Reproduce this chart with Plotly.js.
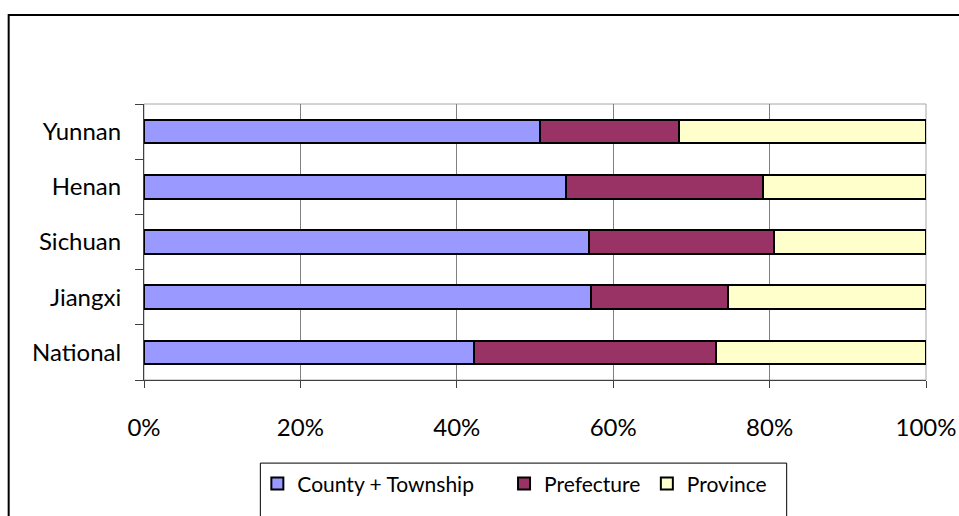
<!DOCTYPE html>
<html>
<head>
<meta charset="utf-8">
<script src="https://cdn.plot.ly/plotly-3.0.1.min.js"></script>
<style>
  html, body { margin: 0; padding: 0; background: #ffffff; overflow: hidden; }
  #chart { width: 959px; height: 516px; }
</style>
</head>
<body>
<div id="chart"></div>
<script>
// Categories (bottom to top as drawn)
const regions = ['National', 'Jiangxi', 'Sichuan', 'Henan', 'Yunnan'];
// Shares in percent
const countyTownship = [42.2, 57.1, 56.9, 54.0, 50.7];
const prefecture     = [31.0, 17.6, 23.7, 25.1, 17.7];
const province       = [26.8, 25.3, 19.4, 20.9, 31.6];
const seriesNames = ['County + Township', 'Prefecture', 'Province'];
const xTickValues = [0, 20, 40, 60, 80, 100];
const xTickLabels = ['0%', '20%', '40%', '60%', '80%', '100%'];

const FONT = 'Lato, "Open Sans", sans-serif';
const colors = ['#9999ff', '#993366', '#ffffcc'];
const seriesData = [countyTownship, prefecture, province];
const legendIds = ['legend', 'legend2', 'legend3'];

const traces = seriesData.map((vals, i) => ({
  type: 'bar',
  orientation: 'h',
  name: seriesNames[i],
  y: regions,
  x: vals,
  marker: { color: colors[i], line: { color: '#000000', width: 2 } },
  legend: legendIds[i],
  hoverinfo: 'skip'
}));

// plot area geometry (px) used for paper conversions
const L = 143.5, R = 32.5, T = 104, B = 133;
const W = 959 - L - R, H = 516 - T - B;
const px = x => (x - L) / W;
const py = y => (516 - B - y) / H;

function legendAt(xpx) {
  return {
    x: px(xpx), xanchor: 'left',
    y: py(488), yanchor: 'middle',
    orientation: 'h',
    bgcolor: 'rgba(0,0,0,0)',
    borderwidth: 0,
    font: { family: FONT, size: 21, color: '#000000' },
    itemwidth: 30,
    itemclick: false, itemdoubleclick: false
  };
}

const layout = {
  width: 959, height: 516,
  margin: { l: L, r: R, t: T, b: B, pad: 0 },
  paper_bgcolor: '#ffffff',
  plot_bgcolor: '#ffffff',
  barmode: 'stack',
  bargap: 0.57,
  showlegend: true,
  font: { family: FONT, size: 24, color: '#000000' },
  xaxis: {
    range: [0, 100],
    tickvals: xTickValues,
    ticktext: xTickLabels,
    showgrid: true,
    gridcolor: '#808080',
    gridwidth: 1,
    zeroline: false,
    showline: true,
    linecolor: '#404040',
    linewidth: 1,
    ticks: 'outside',
    ticklen: 7,
    tickcolor: '#404040',
    tickfont: { family: FONT, size: 24, color: '#000000' },
    ticklabelstandoff: 19,
    fixedrange: true
  },
  yaxis: {
    type: 'category',
    categoryorder: 'array',
    categoryarray: regions,
    showgrid: false,
    zeroline: false,
    showline: true,
    linecolor: '#404040',
    linewidth: 1,
    ticks: 'outside',
    tickson: 'boundaries',
    ticklen: 8,
    tickcolor: '#404040',
    tickfont: { family: FONT, size: 24, color: '#000000' },
    ticklabelstandoff: 17,
    fixedrange: true
  },
  legend: legendAt(257),
  legend2: legendAt(504),
  legend3: legendAt(647),
  shapes: [
    // plot area border (top/right), light grey
    { type: 'rect', xref: 'paper', yref: 'paper', x0: 0, x1: 1, y0: 0, y1: 1,
      line: { color: '#a6a6a6', width: 1 }, layer: 'below' },
    // legend box
    { type: 'rect', xref: 'paper', yref: 'paper',
      x0: px(260), x1: px(787), y0: py(530), y1: py(467),
      line: { color: '#000000', width: 1 }, fillcolor: 'rgba(0,0,0,0)' },
    // chart outer border
    { type: 'rect', xref: 'paper', yref: 'paper',
      x0: px(8), x1: px(975), y0: py(540), y1: py(14),
      line: { color: '#000000', width: 2 }, fillcolor: 'rgba(0,0,0,0)' }
  ]
};

Plotly.newPlot('chart', traces, layout, { displayModeBar: false, staticPlot: true });
</script>
</body>
</html>
